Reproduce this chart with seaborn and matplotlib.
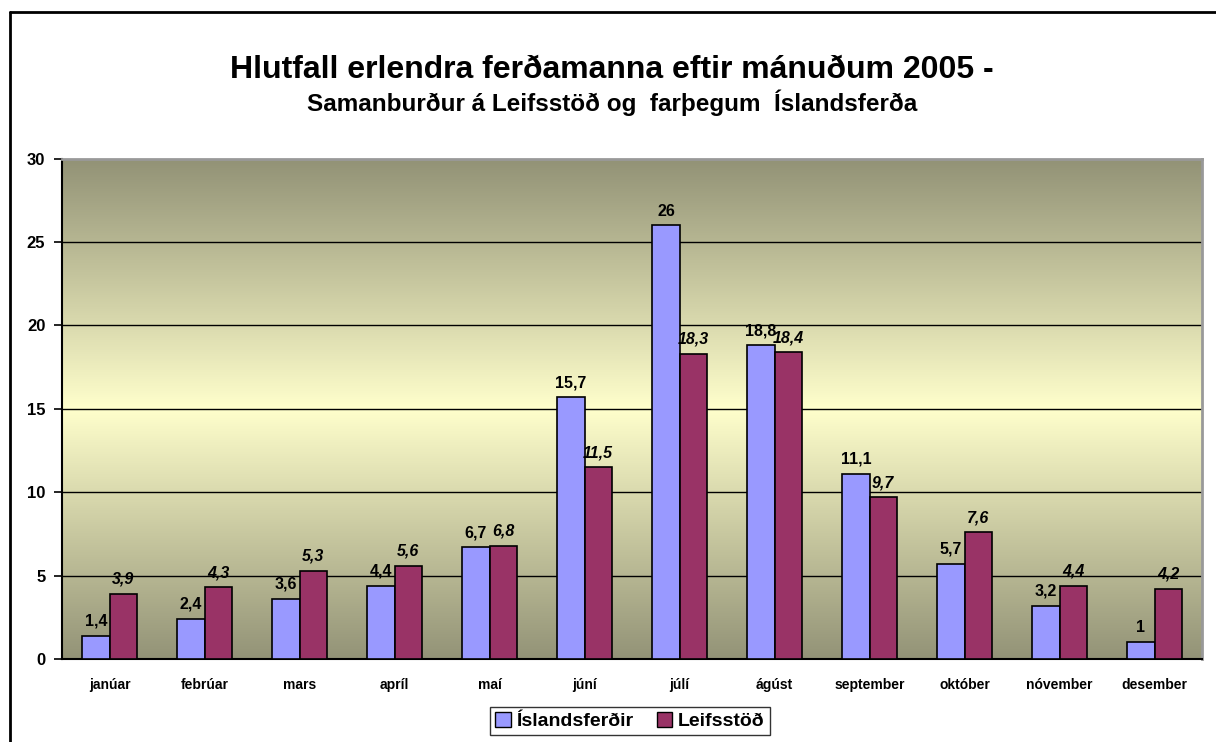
import numpy as np
import pandas as pd
import seaborn as sns
import matplotlib.pyplot as plt
from matplotlib.colors import LinearSegmentedColormap
from matplotlib.lines import Line2D
from matplotlib.patches import Patch

# data
months = ["janúar", "febrúar", "mars", "apríl", "maí", "júní",
          "júlí", "ágúst", "september", "október", "nóvember", "desember"]
islandsferdir = [1.4, 2.4, 3.6, 4.4, 6.7, 15.7, 26, 18.8, 11.1, 5.7, 3.2, 1]
leifsstod = [3.9, 4.3, 5.3, 5.6, 6.8, 11.5, 18.3, 18.4, 9.7, 7.6, 4.4, 4.2]
series_names = ["Íslandsferðir", "Leifsstöð"]
colors = ["#9999ff", "#993366"]

df = pd.DataFrame({
    "month": months * 2,
    "value": islandsferdir + leifsstod,
    "series": [series_names[0]] * 12 + [series_names[1]] * 12,
})

sns.set_style("white")
plt.rcParams["font.family"] = ["Liberation Sans", "DejaVu Sans"]
plt.rcParams["text.color"] = "black"
plt.rcParams["xtick.color"] = "black"
plt.rcParams["ytick.color"] = "black"
plt.rcParams["axes.labelcolor"] = "black"

fig = plt.figure(figsize=(12.16, 7.42), dpi=100)
ax = fig.add_axes([0.051, 0.112, 0.9375, 0.674])

# gradient background (olive -> pale yellow -> olive)
cmap = LinearSegmentedColormap.from_list(
    "bg", ["#929276", "#c8c8a0", "#ffffcc", "#c8c8a0", "#939377"])
grad = np.linspace(0, 1, 256).reshape(-1, 1)
ax.imshow(grad, cmap=cmap, aspect="auto", extent=(-0.5, 11.5, 0, 30),
          zorder=0, origin="upper")

# gridlines (no line on top border)
for yv in range(5, 30, 5):
    ax.axhline(yv, color="black", linewidth=1, zorder=1)

sns.barplot(data=df, x="month", y="value", hue="series", palette=colors,
            width=0.57, edgecolor="black", linewidth=1.2, saturation=1,
            ax=ax, zorder=3, legend=False)

# data labels
def fmt(v):
    return ("%g" % v).replace(".", ",")

for i, cont in enumerate(ax.containers):
    vals = islandsferdir if i == 0 else leifsstod
    ax.bar_label(cont, labels=[fmt(v) for v in vals], padding=5,
                 fontsize=11.5, fontweight="bold",
                 fontstyle="normal" if i == 0 else "italic", zorder=4)

ax.set_xlim(-0.5, 11.5)
ax.set_ylim(0, 30)
ax.set_yticks(range(0, 31, 5))
ax.set_yticklabels([str(v) for v in range(0, 31, 5)], fontsize=12, fontweight="bold")
ax.set_xticks(range(12))
ax.set_xticklabels(months, fontsize=10, fontweight="bold")
ax.set_xticks(np.arange(-0.5, 12, 1), minor=True)
ax.tick_params(axis="x", which="major", length=0, pad=14)
ax.tick_params(axis="x", which="minor", length=6, width=1.2, direction="out", color="black")
ax.tick_params(axis="y", length=6, width=1.2, direction="out", color="black", left=True, pad=6)
ax.set_xlabel("")
ax.set_ylabel("")
ax.grid(False)

for side in ["left", "bottom"]:
    ax.spines[side].set_color("black")
    ax.spines[side].set_linewidth(1.5)
for side in ["top", "right"]:
    ax.spines[side].set_color("#999999")
    ax.spines[side].set_linewidth(2)

# titles
fig.text(0.503, 0.905, "Hlutfall erlendra ferðamanna eftir mánuðum 2005 -",
         ha="center", va="center", fontsize=23, fontweight="bold")
fig.text(0.503, 0.862, "Samanburður á Leifsstöð og  farþegum  Íslandsferða",
         ha="center", va="center", fontsize=17.5, fontweight="bold")

# legend
handles = [Patch(facecolor=c, edgecolor="black", linewidth=1) for c in colors]
leg = fig.legend(handles, series_names, loc="center", bbox_to_anchor=(0.518, 0.028),
                 ncol=2, frameon=True, fancybox=False, edgecolor="black",
                 prop={"size": 14, "weight": "bold"}, handlelength=0.8,
                 handleheight=0.8, handletextpad=0.3, columnspacing=1.2,
                 borderpad=0.25, borderaxespad=0)
leg.get_frame().set_linewidth(1)

# outer chart border (left and top)
fig.add_artist(Line2D([10 / 1216, 10 / 1216], [0, 1 - 12 / 742], color="black", linewidth=2))
fig.add_artist(Line2D([10 / 1216, 1], [1 - 12 / 742, 1 - 12 / 742], color="black", linewidth=2))

fig.savefig("out.png", dpi=100)
